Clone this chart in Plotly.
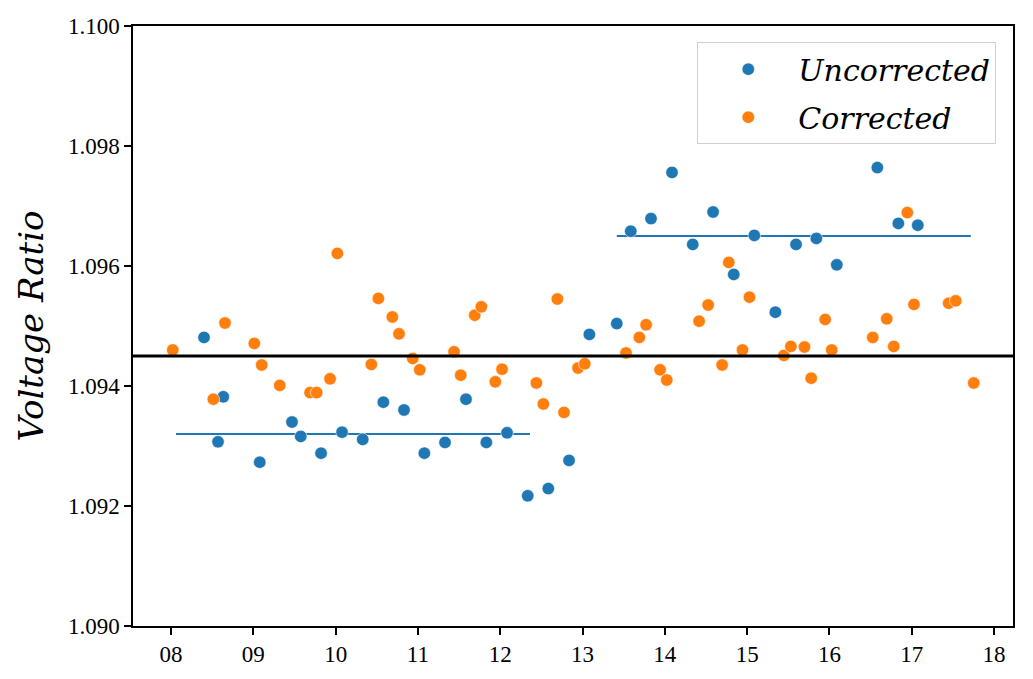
import plotly.graph_objects as go

# ---- data ----
uncorr_x = [8.401, 8.571, 8.635, 9.078, 9.470, 9.576, 9.823, 10.078, 10.329, 10.580,
            10.831, 11.078, 11.329, 11.584, 11.831, 12.083, 12.334, 12.584, 12.836, 13.083,
            13.416, 13.586, 13.832, 14.087, 14.339, 14.586, 14.837, 15.087, 15.343, 15.594,
            15.841, 16.089, 16.582, 16.837, 17.073]
uncorr_y = [1.09481, 1.09307, 1.09382, 1.09273, 1.09340, 1.09316, 1.09288, 1.09323, 1.09311, 1.09373,
            1.09360, 1.09288, 1.09306, 1.09378, 1.09306, 1.09322, 1.09217, 1.09229, 1.09276, 1.09486,
            1.09504, 1.09658, 1.09679, 1.09756, 1.09636, 1.09690, 1.09586, 1.09651, 1.09523, 1.09636,
            1.09646, 1.09602, 1.09764, 1.09671, 1.09668]

corr_x = [8.021, 8.514, 8.656, 9.012, 9.102, 9.321, 9.689, 9.770, 9.932, 10.021,
          10.434, 10.519, 10.689, 10.770, 10.937, 11.022, 11.439, 11.520, 11.690, 11.770,
          11.940, 12.022, 12.439, 12.524, 12.694, 12.775, 12.945, 13.027, 13.528, 13.690,
          13.772, 13.942, 14.023, 14.416, 14.526, 14.696, 14.777, 14.943, 15.028, 15.446,
          15.531, 15.696, 15.778, 15.948, 16.028, 16.526, 16.696, 16.781, 16.946, 17.027,
          17.449, 17.534, 17.753]
corr_y = [1.09460, 1.09378, 1.09505, 1.09471, 1.09435, 1.09401, 1.09389, 1.09389, 1.09412, 1.09621,
          1.09436, 1.09546, 1.09515, 1.09487, 1.09446, 1.09427, 1.09457, 1.09418, 1.09518, 1.09532,
          1.09407, 1.09428, 1.09405, 1.09370, 1.09545, 1.09356, 1.09430, 1.09437, 1.09455, 1.09481,
          1.09502, 1.09427, 1.09410, 1.09508, 1.09535, 1.09435, 1.09606, 1.09460, 1.09548, 1.09451,
          1.09466, 1.09465, 1.09413, 1.09511, 1.09460, 1.09481, 1.09512, 1.09466, 1.09689, 1.09536,
          1.09538, 1.09542, 1.09405]

mean1_x = [8.061, 12.362]
mean1_y = [1.0932, 1.0932]
mean2_x = [13.416, 17.717]
mean2_y = [1.0965, 1.0965]
reference_level = 1.0945

x_tick_vals = [8, 9, 10, 11, 12, 13, 14, 15, 16, 17, 18]
x_tick_text = ["08", "09", "10", "11", "12", "13", "14", "15", "16", "17", "18"]
y_tick_vals = [1.090, 1.092, 1.094, 1.096, 1.098, 1.100]

BLUE = "#1f77b4"
ORANGE = "#ff7f0e"
FONT = "Liberation Serif"
ITFONT = "DejaVu Serif"

fig = go.Figure()

fig.add_trace(go.Scatter(x=mean1_x, y=mean1_y, mode="lines",
                         line=dict(color=BLUE, width=2), showlegend=False, hoverinfo="skip"))
fig.add_trace(go.Scatter(x=mean2_x, y=mean2_y, mode="lines",
                         line=dict(color=BLUE, width=2), showlegend=False, hoverinfo="skip"))

fig.add_trace(go.Scatter(x=uncorr_x, y=uncorr_y, mode="markers", name="Uncorrected",
                         legendgroup="a",
                         marker=dict(color=BLUE, size=12.5, line=dict(width=0.6, color="white"))))
fig.add_trace(go.Scatter(x=corr_x, y=corr_y, mode="markers", name="Corrected",
                         legendgroup="b",
                         marker=dict(color=ORANGE, size=12.5, line=dict(width=0.6, color="white"))))

fig.add_hline(y=reference_level, line=dict(color="black", width=3))

fig.update_layout(
    width=1025, height=671,
    margin=dict(l=125, r=20, t=18, b=53, autoexpand=False),
    paper_bgcolor="white", plot_bgcolor="white",
    font=dict(family=FONT, size=23, color="black"),
    legend=dict(
        x=0.981, y=0.973, xanchor="right", yanchor="top",
        bgcolor="rgba(255,255,255,0.8)", bordercolor="#d0d0d0", borderwidth=1,
        font=dict(family=ITFONT, size=30, style="italic"),
        itemwidth=90, tracegroupgap=6, traceorder="grouped",
    ),
    showlegend=True,
)

fig.update_xaxes(
    range=[7.538, 18.23], tickvals=x_tick_vals, ticktext=x_tick_text,
    showgrid=False, zeroline=False, automargin=False,
    showline=True, linecolor="black", linewidth=1.5, mirror=True,
    ticks="outside", ticklen=7, tickwidth=1.5, tickcolor="black",
)
fig.update_yaxes(
    range=[1.090, 1.100], tickvals=y_tick_vals, tickformat=".3f",
    showgrid=False, zeroline=False, automargin=False,
    showline=True, linecolor="black", linewidth=1.5, mirror=True,
    ticks="outside", ticklen=7, tickwidth=1.5, tickcolor="black",
    title=dict(text="Voltage Ratio", font=dict(family=ITFONT, size=34, style="italic"), standoff=14),
)

fig.write_html("out.html")
